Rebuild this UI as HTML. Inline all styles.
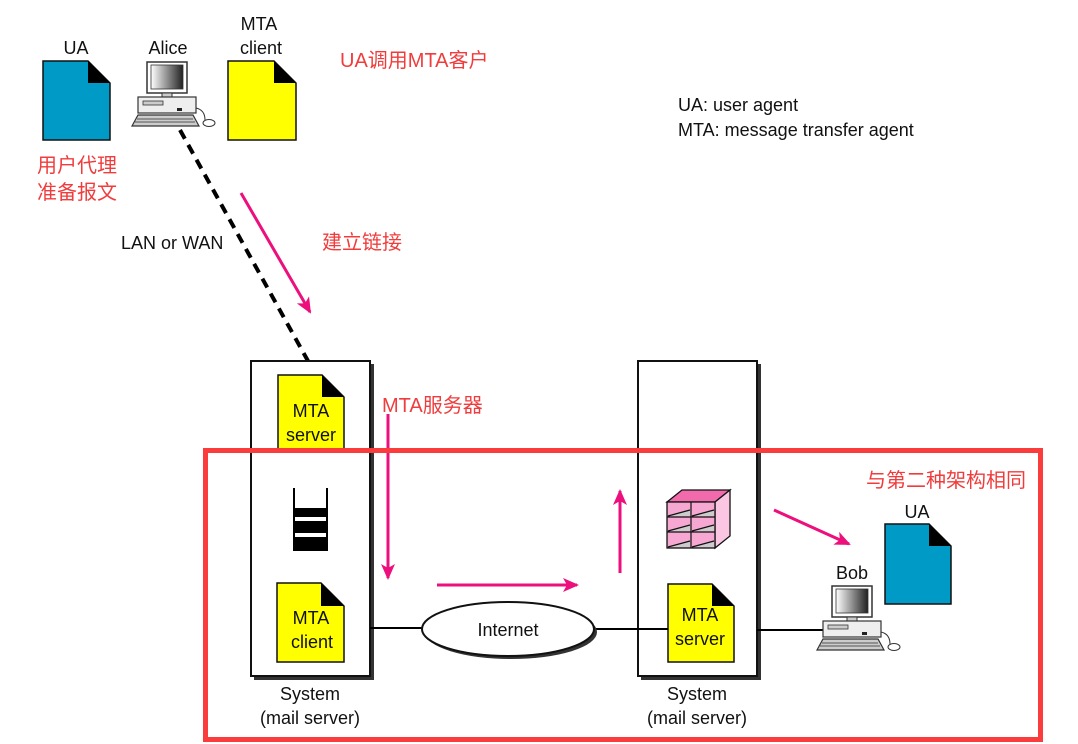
<!DOCTYPE html>
<html><head><meta charset="utf-8"><style>
html,body{margin:0;padding:0;background:#fff}
svg{display:block}
text{font-family:"Liberation Sans","Noto Sans CJK SC",sans-serif}
.b{font-size:18px;fill:#111}
.r{font-size:20px;fill:#f03c3c}
</style></head><body>
<svg width="1078" height="744" viewBox="0 0 1078 744" xmlns="http://www.w3.org/2000/svg">
<defs>
<linearGradient id="scr" x1="0" x2="1" y1="0" y2="0"><stop offset="0" stop-color="#fff"/><stop offset="1" stop-color="#222"/></linearGradient>
<marker id="ah" markerWidth="16" markerHeight="14" refX="14" refY="7" orient="auto" markerUnits="userSpaceOnUse" viewBox="0 0 16 14">
<path d="M0,0 L16,7 L0,14 L4,7 Z" fill="#ec0f7c"/></marker>
<g id="pc">
<rect x="0" y="0" width="40" height="31" fill="#fff" stroke="#333" stroke-width="1.5"/>
<rect x="4" y="3" width="32" height="24" fill="url(#scr)" stroke="#333" stroke-width="0.8"/>
<rect x="15" y="31" width="10" height="4" fill="#ccc" stroke="#333"/>
<rect x="-9" y="35" width="58" height="16" fill="#eee" stroke="#333" stroke-width="1.2"/>
<rect x="-4" y="39" width="20" height="4" fill="#ccc" stroke="#333" stroke-width="0.8"/>
<rect x="30" y="46" width="5" height="3" fill="#222"/>
<path d="M-15,64 L-9,53 L46,53 L52,64 Z" fill="#ccc" stroke="#333" stroke-width="1.2"/>
<path d="M-10,57 H46 M-12,60 H48" stroke="#555" stroke-width="1"/>
<ellipse cx="62" cy="61" rx="6" ry="3.5" fill="#fff" stroke="#333"/>
<path d="M49,46 Q58,48 58,58" fill="none" stroke="#333"/>
</g>
</defs>

<path d="M43,61 H88 L110,83 V140 H43 Z" fill="#009ac6" stroke="#111" stroke-width="1.5"/>
<path d="M88,61 L110,83 H88 Z" fill="#000"/>
<path d="M228,61 H274 L296,83 V140 H228 Z" fill="#ffff00" stroke="#111" stroke-width="1.5"/>
<path d="M274,61 L296,83 H274 Z" fill="#000"/>
<use href="#pc" x="147" y="62"/>
<text class="b" x="76" y="54" text-anchor="middle">UA</text>
<text class="b" x="168" y="54" text-anchor="middle">Alice</text>
<text class="b" x="259" y="30" text-anchor="middle">MTA</text>
<text class="b" x="261" y="54" text-anchor="middle">client</text>
<text class="r" x="340" y="67">UA调用MTA客户</text>
<text class="r" x="37" y="172">用户代理</text>
<text class="r" x="37" y="199">准备报文</text>
<text class="b" x="678" y="111">UA: user agent</text>
<text class="b" x="678" y="136">MTA: message transfer agent</text>

<line x1="180" y1="130" x2="308" y2="361" stroke="#000" stroke-width="4" stroke-dasharray="10,7"/>
<text class="b" x="121" y="249">LAN or WAN</text>
<line x1="241" y1="193" x2="310" y2="312" stroke="#ec0f7c" stroke-width="3" marker-end="url(#ah)"/>
<text class="r" x="322" y="249">建立链接</text>

<rect x="254" y="364" width="120" height="316" fill="#333"/>
<rect x="251" y="361" width="119" height="315" fill="#fff" stroke="#111" stroke-width="2"/>
<rect x="641" y="364" width="120" height="316" fill="#333"/>
<rect x="638" y="361" width="119" height="315" fill="#fff" stroke="#111" stroke-width="2"/>

<path d="M278,375 H322 L344,397 V452 H278 Z" fill="#ffff00" stroke="#111" stroke-width="1.5"/>
<path d="M322,375 L344,397 H322 Z" fill="#000"/>
<text class="b" x="311" y="417" text-anchor="middle">MTA</text>
<text class="b" x="311" y="441" text-anchor="middle">server</text>

<path d="M294,488 V550 H327 V488" fill="none" stroke="#000" stroke-width="2"/>
<rect x="294" y="508" width="33" height="42" fill="#000"/>
<rect x="295" y="517" width="31" height="4" fill="#fff"/>
<rect x="295" y="533" width="31" height="4" fill="#fff"/>

<path d="M277,583 H321 L344,606 V662 H277 Z" fill="#ffff00" stroke="#111" stroke-width="1.5"/>
<path d="M321,583 L344,606 H321 Z" fill="#000"/>
<text class="b" x="311" y="624" text-anchor="middle">MTA</text>
<text class="b" x="312" y="648" text-anchor="middle">client</text>

<path d="M667,502 L682,490 L730,490 L715,502 Z" fill="#f06aac" stroke="#111" stroke-width="1.3"/>
<path d="M715,502 L730,490 V536 L715,548 Z" fill="#fbc6e2" stroke="#111" stroke-width="1.3"/>
<rect x="667" y="502" width="48" height="46" fill="#f6a8d2" stroke="#111" stroke-width="1.3"/>
<path d="M668,516 L690,510 V516 Z M692,516 L714,510 V516 Z M668,531 L690,525 V531 Z M692,531 L714,525 V531 Z M668,547 L690,541 V547 Z M692,547 L714,541 V547 Z" fill="#ccc"/>
<path d="M667,517 H715 M667,532 H715 M691,502 V548 M668,516 L690,510 M692,516 L714,510 M668,531 L690,525 M692,531 L714,525 M668,547 L690,541 M692,547 L714,541" stroke="#111" stroke-width="1.2"/>

<path d="M668,584 H712 L734,606 V662 H668 Z" fill="#ffff00" stroke="#111" stroke-width="1.5"/>
<path d="M712,584 L734,606 H712 Z" fill="#000"/>
<text class="b" x="700" y="621" text-anchor="middle">MTA</text>
<text class="b" x="700" y="645" text-anchor="middle">server</text>

<line x1="370" y1="628" x2="422" y2="628" stroke="#000" stroke-width="2"/>
<line x1="594" y1="629" x2="668" y2="629" stroke="#000" stroke-width="2"/>
<line x1="757" y1="630" x2="826" y2="630" stroke="#000" stroke-width="2"/>
<ellipse cx="511" cy="632" rx="86" ry="27" fill="#333"/>
<ellipse cx="508" cy="629" rx="86" ry="27" fill="#fff" stroke="#111" stroke-width="2"/>
<text class="b" x="508" y="636" text-anchor="middle">Internet</text>

<use href="#pc" x="832" y="586"/>
<text class="b" x="852" y="579" text-anchor="middle">Bob</text>
<path d="M885,524 H929 L951,546 V604 H885 Z" fill="#009ac6" stroke="#111" stroke-width="1.5"/>
<path d="M929,524 L951,546 H929 Z" fill="#000"/>
<text class="b" x="917" y="518" text-anchor="middle">UA</text>

<line x1="388" y1="414" x2="388" y2="578" stroke="#ec0f7c" stroke-width="3" marker-end="url(#ah)"/>
<line x1="437" y1="585" x2="577" y2="585" stroke="#ec0f7c" stroke-width="3" marker-end="url(#ah)"/>
<line x1="620" y1="573" x2="620" y2="491" stroke="#ec0f7c" stroke-width="3" marker-end="url(#ah)"/>
<line x1="774" y1="510" x2="849" y2="544" stroke="#ec0f7c" stroke-width="3" marker-end="url(#ah)"/>
<text class="r" x="382" y="412">MTA服务器</text>

<text class="b" x="310" y="700" text-anchor="middle">System</text>
<text class="b" x="310" y="724" text-anchor="middle">(mail server)</text>
<text class="b" x="697" y="700" text-anchor="middle">System</text>
<text class="b" x="697" y="724" text-anchor="middle">(mail server)</text>

<rect x="205.5" y="450.5" width="835" height="289" fill="none" stroke="#fa3c3c" stroke-width="5"/>
<text class="r" x="866" y="487">与第二种架构相同</text>
</svg>
</body></html>
